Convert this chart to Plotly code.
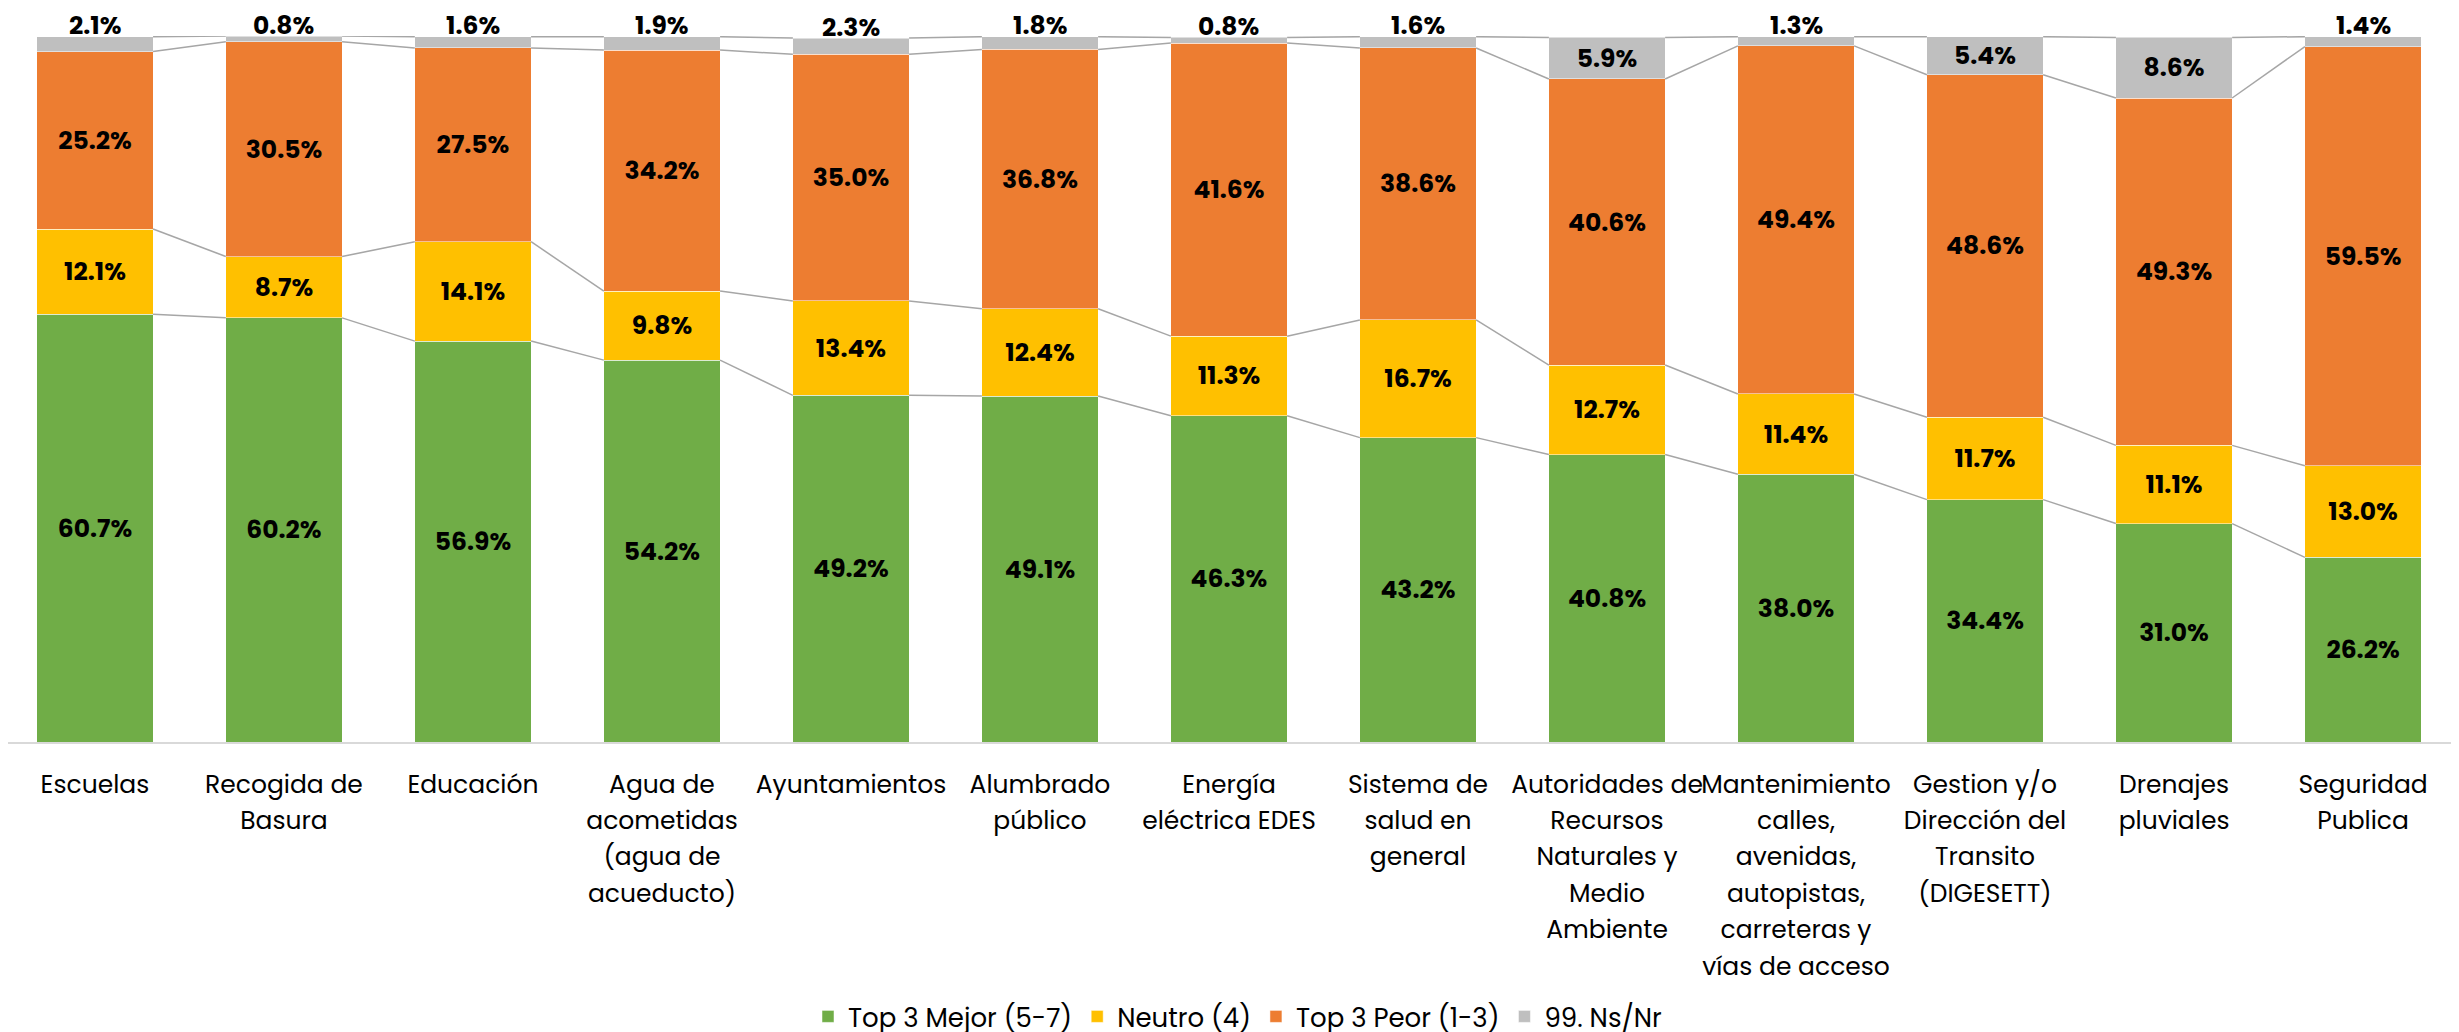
import plotly.graph_objects as go

categorias = [
    "Escuelas", "Recogida de<br>Basura", "Educación",
    "Agua de<br>acometidas<br>(agua de<br>acueducto)", "Ayuntamientos",
    "Alumbrado<br>público", "Energía<br>eléctrica EDES",
    "Sistema de<br>salud en<br>general",
    "Autoridades de<br>Recursos<br>Naturales y<br>Medio<br>Ambiente",
    "Mantenimiento<br>calles,<br>avenidas,<br>autopistas,<br>carreteras y<br>vías de acceso",
    "Gestion y/o<br>Dirección del<br>Transito<br>(DIGESETT)",
    "Drenajes<br>pluviales", "Seguridad<br>Publica",
]
mejor = [60.7, 60.2, 56.9, 54.2, 49.2, 49.1, 46.3, 43.2, 40.8, 38.0, 34.4, 31.0, 26.2]
neutro = [12.1, 8.7, 14.1, 9.8, 13.4, 12.4, 11.3, 16.7, 12.7, 11.4, 11.7, 11.1, 13.0]
peor = [25.2, 30.5, 27.5, 34.2, 35.0, 36.8, 41.6, 38.6, 40.6, 49.4, 48.6, 49.3, 59.5]
nsnr = [2.1, 0.8, 1.6, 1.9, 2.3, 1.8, 0.8, 1.6, 5.9, 1.3, 5.4, 8.6, 1.4]

series = [
    ("Top 3 Mejor (5-7)", mejor, "#70AD47"),
    ("Neutro (4)", neutro, "#FFC000"),
    ("Top 3 Peor (1-3)", peor, "#ED7D31"),
    ("99. Ns/Nr", nsnr, "#BFBFBF"),
]

FONT = "Poppins, Inter, sans-serif"
ancho = 0.615
x = list(range(len(categorias)))

# etiquetas del eje: letra de 25px con interlineado mas amplio
def envolver(t):
    return "<br>".join(f"<span style='font-size:25px'>{p}</span>" for p in t.split("<br>"))

fig = go.Figure()

# lineas de serie entre barras (como en Excel)
acum = [0] * len(x)
niveles = []
for _, vals, _ in series:
    acum = [a + v for a, v in zip(acum, vals)]
    niveles.append(list(acum))
lx, ly = [], []
for nivel in niveles:
    for i in range(len(x) - 1):
        lx += [x[i] + ancho / 2, x[i + 1] - ancho / 2, None]
        ly += [nivel[i], nivel[i + 1], None]
fig.add_trace(go.Scatter(x=lx, y=ly, mode="lines", line=dict(color="#A6A6A6", width=1.5),
                         showlegend=False, hoverinfo="skip"))

for nombre, vals, color in series:
    textos = [f"{v:.1f}%" for v in vals]
    if nombre == "99. Ns/Nr":
        # los valores pequenos van encima de la barra
        textos = [t if v >= 5 else "" for t, v in zip(textos, vals)]
    fig.add_trace(go.Bar(
        x=x, y=vals, name=nombre, width=ancho,
        marker=dict(color=color, line=dict(color="white", width=0.5)),
        text=textos, textposition="inside", textangle=0,
        insidetextanchor="middle", constraintext="none",
        textfont=dict(family=FONT, size=25, color="black", weight="bold"),
        cliponaxis=False,
    ))

total = niveles[-1]
for i, v in enumerate(nsnr):
    if v < 5:
        fig.add_annotation(x=x[i], y=total[i], text=f"{v:.1f}%", showarrow=False,
                           yanchor="middle", yshift=11,
                           font=dict(family=FONT, size=25, color="black", weight="bold"))

fig.update_layout(
    barmode="stack",
    width=2459, height=1032,
    margin=dict(l=0, r=0, t=28, b=297),
    plot_bgcolor="white", paper_bgcolor="white",
    font=dict(family=FONT, size=28, color="black"),
    xaxis=dict(range=[-0.46, 12.55], tickvals=x, ticktext=[envolver(c) for c in categorias],
               showgrid=False, zeroline=False, showline=True, linecolor="#D9D9D9", linewidth=2,
               ticks="outside", ticklen=15, tickcolor="rgba(0,0,0,0)", tickangle=0,
               tickfont=dict(size=28)),
    yaxis=dict(range=[0, 100.2], visible=False),
    legend=dict(orientation="h", x=0.5, xanchor="center", y=-0.389, yanchor="middle",
                font=dict(size=26), traceorder="normal", itemwidth=30),
    showlegend=True,
)

fig.write_html("out.html")
